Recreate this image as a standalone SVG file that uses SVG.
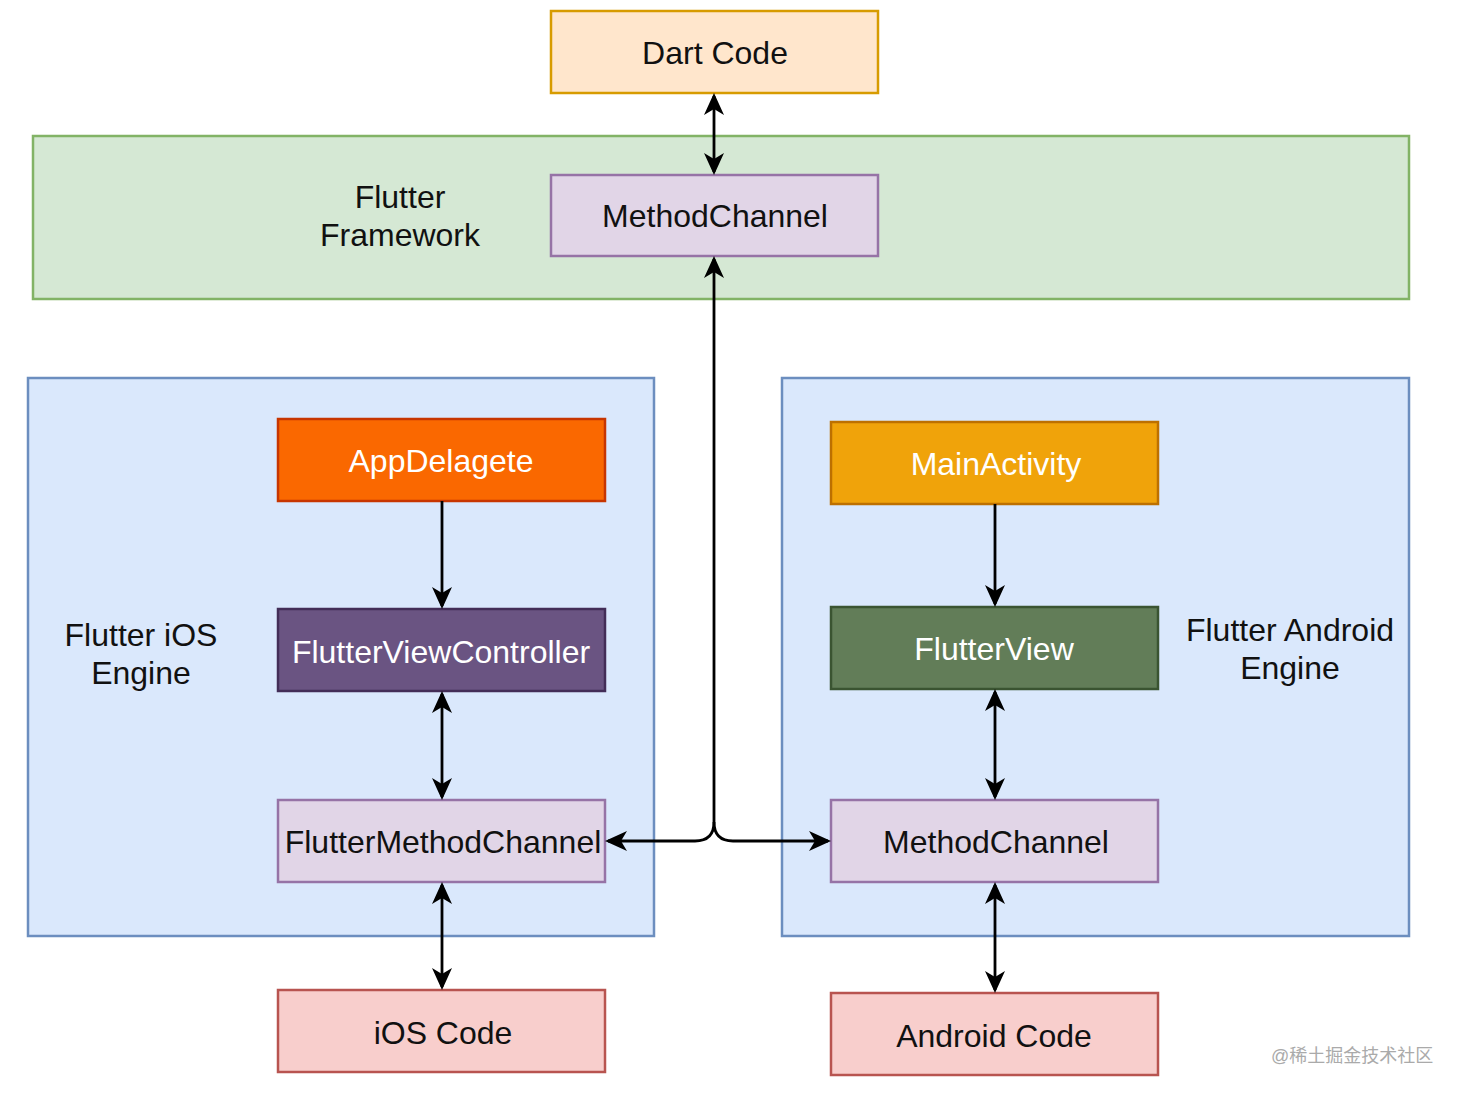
<svg xmlns="http://www.w3.org/2000/svg" width="1460" height="1094" viewBox="0 0 1460 1094">
<style>
text{font-family:"Liberation Sans",Arial,sans-serif;font-size:32px;text-anchor:middle;fill:#111}
.w{fill:#fff}
.box{stroke-width:2.5}
.c{fill:none;stroke:#000;stroke-width:2.8}
.wm{font-family:"Liberation Sans","Noto Sans CJK SC",sans-serif;font-size:18px;fill:#aaa;text-anchor:start}
</style>
<defs>
<marker id="ah" viewBox="0 0 22 20" refX="19" refY="10" markerWidth="22" markerHeight="20" markerUnits="userSpaceOnUse" orient="auto-start-reverse">
<path d="M0,0 L22,10 L0,20 L6,10 Z" fill="#000"/>
</marker>
</defs>
<rect width="1460" height="1094" fill="#fff"/>
<g id="framework"><rect class="box" x="33" y="136" width="1376" height="163" fill="#d5e8d4" stroke="#82b366"/><text x="400" y="208">Flutter</text><text x="400" y="246">Framework</text></g>
<g id="ios-engine"><rect class="box" x="28" y="378" width="626" height="558" fill="#dae8fc" stroke="#6c8ebf"/><text x="141" y="646">Flutter iOS</text><text x="141" y="684">Engine</text></g>
<g id="android-engine"><rect class="box" x="782" y="378" width="627" height="558" fill="#dae8fc" stroke="#6c8ebf"/><text x="1290" y="641">Flutter Android</text><text x="1290" y="679">Engine</text></g>
<g id="dart-code"><rect class="box" x="551" y="11" width="327" height="82" fill="#ffe6cc" stroke="#d79b00"/><text x="715" y="64">Dart Code</text></g>
<g id="method-channel-top"><rect class="box" x="551" y="175" width="327" height="81" fill="#e1d5e7" stroke="#9673a6"/><text x="715" y="227">MethodChannel</text></g>
<g id="app-delagete"><rect class="box" x="278" y="419" width="327" height="82" fill="#fa6800" stroke="#c73500"/><text class="w" x="441" y="472">AppDelagete</text></g>
<g id="flutter-view-controller"><rect class="box" x="278" y="609" width="327" height="82" fill="#6a5482" stroke="#432d57"/><text class="w" x="441" y="663">FlutterViewController</text></g>
<g id="flutter-method-channel"><rect class="box" x="278" y="800" width="327" height="82" fill="#e1d5e7" stroke="#9673a6"/><text x="443" y="853">FlutterMethodChannel</text></g>
<g id="ios-code"><rect class="box" x="278" y="990" width="327" height="82" fill="#f8cecc" stroke="#b85450"/><text x="443" y="1044">iOS Code</text></g>
<g id="main-activity"><rect class="box" x="831" y="422" width="327" height="82" fill="#f0a30a" stroke="#bd7000"/><text class="w" x="996" y="475">MainActivity</text></g>
<g id="flutter-view"><rect class="box" x="831" y="607" width="327" height="82" fill="#627d58" stroke="#3a5431"/><text class="w" x="994" y="660">FlutterView</text></g>
<g id="method-channel-android"><rect class="box" x="831" y="800" width="327" height="82" fill="#e1d5e7" stroke="#9673a6"/><text x="996" y="853">MethodChannel</text></g>
<g id="android-code"><rect class="box" x="831" y="993" width="327" height="82" fill="#f8cecc" stroke="#b85450"/><text x="994" y="1047">Android Code</text></g>
<g id="connectors">
<line class="c" x1="714" y1="96" x2="714" y2="172" marker-start="url(#ah)" marker-end="url(#ah)"/>
<path class="c" d="M714,259 L714,822 Q714,841 695,841 L608,841" marker-start="url(#ah)" marker-end="url(#ah)"/>
<path class="c" d="M714,822 Q714,841 733,841 L828,841" marker-end="url(#ah)"/>
<line class="c" x1="442" y1="501" x2="442" y2="606" marker-end="url(#ah)"/>
<line class="c" x1="442" y1="694" x2="442" y2="797" marker-start="url(#ah)" marker-end="url(#ah)"/>
<line class="c" x1="442" y1="885" x2="442" y2="987" marker-start="url(#ah)" marker-end="url(#ah)"/>
<line class="c" x1="995" y1="504" x2="995" y2="604" marker-end="url(#ah)"/>
<line class="c" x1="995" y1="692" x2="995" y2="797" marker-start="url(#ah)" marker-end="url(#ah)"/>
<line class="c" x1="995" y1="885" x2="995" y2="990" marker-start="url(#ah)" marker-end="url(#ah)"/>
</g>
<text class="wm" x="1271" y="1062">@稀土掘金技术社区</text>
</svg>
